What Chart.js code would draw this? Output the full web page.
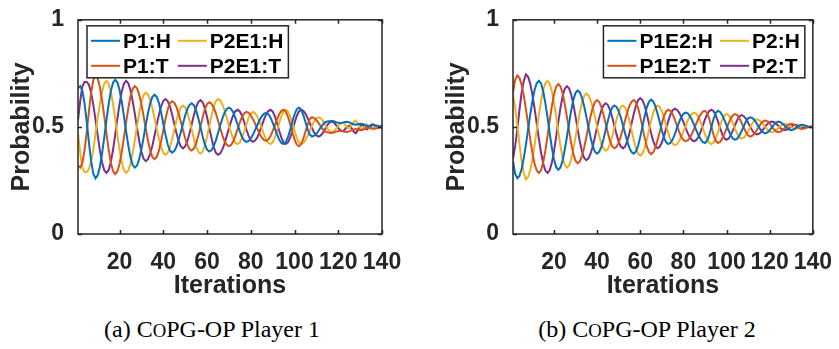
<!DOCTYPE html>
<html>
<head>
<meta charset="utf-8">
<script src="https://cdn.jsdelivr.net/npm/chart.js@4/dist/chart.umd.min.js"></script>
<style>
  body { margin: 0; background: #fff; width: 839px; height: 349px; overflow: hidden; position: relative; }
  canvas { position: absolute; top: 0; }
  .caption { position: absolute; font-family: "Liberation Serif", "Times New Roman", serif; font-size: 24px; color: #000; white-space: nowrap; transform: translate(-50%, -50%); }
  .sc { font-size: 0.78em; }
</style>
</head>
<body>
<canvas id="leftChart" width="420" height="300" style="left:0px"></canvas>
<canvas id="rightChart" width="404" height="300" style="left:435px"></canvas>
<div class="caption" style="left:212px; top:329px">(a) C<span class="sc">O</span>PG-OP Player 1</div>
<div class="caption" style="left:647px; top:329px">(b) C<span class="sc">O</span>PG-OP Player 2</div>
<script>
// Iteration axis and tick marks
const iterations = Array.from({ length: 140 }, (_, k) => k + 1);
const xTicks = [20, 40, 60, 80, 100, 120, 140];
const yTicks = [0, 0.5, 1];

// (a) Player 1 run
const leftP1H = [
  0.68, 0.69, 0.668, 0.609, 0.523, 0.427, 0.341, 0.281, 0.26, 0.274,
  0.314, 0.375, 0.45, 0.53, 0.605, 0.666, 0.706, 0.72, 0.708, 0.672,
  0.618, 0.551, 0.479, 0.413, 0.358, 0.322, 0.31, 0.32, 0.35, 0.395,
  0.45, 0.51, 0.565, 0.61, 0.64, 0.65, 0.64, 0.611, 0.567, 0.515,
  0.463, 0.419, 0.39, 0.38, 0.387, 0.407, 0.438, 0.475, 0.515, 0.553,
  0.583, 0.603, 0.61, 0.601, 0.577, 0.541, 0.498, 0.455, 0.418, 0.394,
  0.385, 0.391, 0.409, 0.436, 0.47, 0.505, 0.539, 0.566, 0.584, 0.59,
  0.584, 0.567, 0.541, 0.51, 0.479, 0.453, 0.436, 0.43, 0.434, 0.446,
  0.464, 0.486, 0.509, 0.531, 0.549, 0.561, 0.565, 0.559, 0.544, 0.52,
  0.493, 0.465, 0.441, 0.425, 0.42, 0.429, 0.452, 0.486, 0.524, 0.558,
  0.582, 0.59, 0.581, 0.556, 0.523, 0.489, 0.464, 0.455, 0.459, 0.468,
  0.482, 0.498, 0.512, 0.522, 0.525, 0.527, 0.528, 0.526, 0.522, 0.519,
  0.518, 0.52, 0.523, 0.524, 0.521, 0.516, 0.512, 0.51, 0.512, 0.515,
  0.514, 0.51, 0.505, 0.503, 0.505, 0.508, 0.508, 0.505, 0.502, 0.505
];
const leftP1T = [
  0.32, 0.31, 0.332, 0.391, 0.477, 0.573, 0.659, 0.719, 0.74, 0.726,
  0.686, 0.625, 0.55, 0.47, 0.395, 0.334, 0.294, 0.28, 0.292, 0.328,
  0.382, 0.449, 0.521, 0.587, 0.642, 0.678, 0.69, 0.68, 0.65, 0.605,
  0.55, 0.49, 0.435, 0.39, 0.36, 0.35, 0.36, 0.389, 0.433, 0.485,
  0.537, 0.581, 0.61, 0.62, 0.613, 0.593, 0.562, 0.525, 0.485, 0.447,
  0.417, 0.397, 0.39, 0.399, 0.423, 0.459, 0.502, 0.545, 0.582, 0.606,
  0.615, 0.609, 0.591, 0.564, 0.53, 0.495, 0.461, 0.434, 0.416, 0.41,
  0.416, 0.433, 0.459, 0.49, 0.521, 0.547, 0.564, 0.57, 0.566, 0.554,
  0.536, 0.514, 0.491, 0.469, 0.451, 0.439, 0.435, 0.441, 0.456, 0.48,
  0.507, 0.535, 0.559, 0.575, 0.58, 0.571, 0.548, 0.514, 0.476, 0.442,
  0.418, 0.41, 0.419, 0.444, 0.477, 0.511, 0.536, 0.545, 0.541, 0.532,
  0.518, 0.502, 0.488, 0.478, 0.475, 0.473, 0.472, 0.474, 0.478, 0.481,
  0.482, 0.48, 0.477, 0.476, 0.479, 0.484, 0.488, 0.49, 0.488, 0.485,
  0.486, 0.49, 0.495, 0.497, 0.495, 0.492, 0.492, 0.495, 0.498, 0.495
];
const leftP2E1H = [
  0.47, 0.38, 0.31, 0.29, 0.29, 0.303, 0.34, 0.396, 0.466, 0.54,
  0.609, 0.665, 0.702, 0.715, 0.702, 0.665, 0.608, 0.537, 0.463, 0.393,
  0.335, 0.298, 0.285, 0.296, 0.329, 0.379, 0.44, 0.505, 0.566, 0.616,
  0.649, 0.66, 0.651, 0.626, 0.588, 0.54, 0.49, 0.443, 0.404, 0.379,
  0.37, 0.379, 0.404, 0.441, 0.485, 0.529, 0.566, 0.591, 0.6, 0.591,
  0.567, 0.53, 0.488, 0.445, 0.408, 0.384, 0.375, 0.385, 0.412, 0.454,
  0.503, 0.551, 0.593, 0.62, 0.63, 0.624, 0.605, 0.578, 0.543, 0.507,
  0.473, 0.445, 0.426, 0.42, 0.428, 0.448, 0.478, 0.512, 0.542, 0.563,
  0.57, 0.564, 0.548, 0.524, 0.495, 0.466, 0.442, 0.426, 0.42, 0.428,
  0.45, 0.482, 0.518, 0.55, 0.572, 0.58, 0.572, 0.55, 0.518, 0.482,
  0.45, 0.428, 0.42, 0.425, 0.438, 0.459, 0.483, 0.506, 0.527, 0.54,
  0.545, 0.54, 0.528, 0.51, 0.492, 0.48, 0.475, 0.48, 0.492, 0.505,
  0.515, 0.52, 0.512, 0.5, 0.495, 0.505, 0.522, 0.53, 0.515, 0.497,
  0.49, 0.5, 0.512, 0.505, 0.49, 0.488, 0.497, 0.505, 0.5, 0.495
];
const leftP2E1T = [
  0.53, 0.62, 0.69, 0.71, 0.71, 0.697, 0.66, 0.604, 0.534, 0.46,
  0.391, 0.335, 0.298, 0.285, 0.298, 0.335, 0.392, 0.463, 0.537, 0.607,
  0.665, 0.702, 0.715, 0.704, 0.671, 0.621, 0.56, 0.495, 0.434, 0.384,
  0.351, 0.34, 0.349, 0.374, 0.412, 0.46, 0.51, 0.557, 0.596, 0.621,
  0.63, 0.621, 0.596, 0.559, 0.515, 0.471, 0.434, 0.409, 0.4, 0.409,
  0.433, 0.47, 0.512, 0.555, 0.592, 0.616, 0.625, 0.615, 0.588, 0.546,
  0.497, 0.449, 0.407, 0.38, 0.37, 0.376, 0.395, 0.422, 0.457, 0.493,
  0.527, 0.555, 0.574, 0.58, 0.572, 0.552, 0.522, 0.488, 0.458, 0.437,
  0.43, 0.436, 0.452, 0.476, 0.505, 0.534, 0.558, 0.574, 0.58, 0.572,
  0.55, 0.518, 0.482, 0.45, 0.428, 0.42, 0.428, 0.45, 0.482, 0.518,
  0.55, 0.572, 0.58, 0.575, 0.562, 0.541, 0.517, 0.494, 0.473, 0.46,
  0.455, 0.46, 0.472, 0.49, 0.508, 0.52, 0.525, 0.52, 0.508, 0.495,
  0.485, 0.48, 0.488, 0.5, 0.505, 0.495, 0.478, 0.47, 0.485, 0.503,
  0.51, 0.5, 0.488, 0.495, 0.51, 0.512, 0.503, 0.495, 0.5, 0.505
];

// (b) Player 2 run
const rightP1E2H = [
  0.34, 0.28, 0.26, 0.271, 0.303, 0.354, 0.417, 0.488, 0.558, 0.621,
  0.672, 0.704, 0.715, 0.703, 0.666, 0.611, 0.544, 0.471, 0.404, 0.349,
  0.312, 0.3, 0.311, 0.343, 0.393, 0.453, 0.517, 0.578, 0.627, 0.659,
  0.67, 0.661, 0.635, 0.596, 0.548, 0.497, 0.449, 0.41, 0.384, 0.375,
  0.384, 0.408, 0.445, 0.488, 0.53, 0.567, 0.591, 0.6, 0.593, 0.574,
  0.544, 0.507, 0.468, 0.431, 0.401, 0.382, 0.375, 0.385, 0.412, 0.453,
  0.501, 0.549, 0.59, 0.617, 0.627, 0.619, 0.597, 0.563, 0.524, 0.484,
  0.45, 0.428, 0.42, 0.426, 0.441, 0.465, 0.494, 0.522, 0.546, 0.561,
  0.567, 0.563, 0.55, 0.532, 0.508, 0.484, 0.461, 0.442, 0.429, 0.425,
  0.435, 0.463, 0.5, 0.538, 0.565, 0.575, 0.57, 0.555, 0.533, 0.508,
  0.482, 0.46, 0.445, 0.44, 0.445, 0.46, 0.481, 0.504, 0.525, 0.54,
  0.545, 0.541, 0.531, 0.516, 0.499, 0.484, 0.474, 0.47, 0.474, 0.484,
  0.498, 0.511, 0.521, 0.525, 0.522, 0.515, 0.505, 0.495, 0.488, 0.485,
  0.487, 0.494, 0.501, 0.508, 0.51, 0.508, 0.504, 0.5, 0.498, 0.5
];
const rightP1E2T = [
  0.66, 0.72, 0.74, 0.729, 0.697, 0.646, 0.583, 0.512, 0.442, 0.379,
  0.328, 0.296, 0.285, 0.297, 0.334, 0.389, 0.456, 0.529, 0.596, 0.651,
  0.688, 0.7, 0.689, 0.657, 0.607, 0.547, 0.483, 0.422, 0.373, 0.341,
  0.33, 0.339, 0.365, 0.404, 0.452, 0.503, 0.551, 0.59, 0.616, 0.625,
  0.616, 0.592, 0.555, 0.512, 0.47, 0.433, 0.409, 0.4, 0.407, 0.426,
  0.456, 0.493, 0.532, 0.569, 0.599, 0.618, 0.625, 0.615, 0.588, 0.547,
  0.499, 0.451, 0.41, 0.383, 0.373, 0.381, 0.403, 0.437, 0.476, 0.516,
  0.55, 0.572, 0.58, 0.574, 0.559, 0.535, 0.506, 0.478, 0.454, 0.439,
  0.433, 0.437, 0.45, 0.468, 0.492, 0.516, 0.539, 0.558, 0.571, 0.575,
  0.565, 0.537, 0.5, 0.462, 0.435, 0.425, 0.43, 0.445, 0.467, 0.492,
  0.518, 0.54, 0.555, 0.56, 0.555, 0.54, 0.519, 0.496, 0.475, 0.46,
  0.455, 0.459, 0.469, 0.484, 0.501, 0.516, 0.526, 0.53, 0.526, 0.516,
  0.502, 0.489, 0.479, 0.475, 0.478, 0.485, 0.495, 0.505, 0.512, 0.515,
  0.513, 0.506, 0.499, 0.492, 0.49, 0.492, 0.496, 0.5, 0.502, 0.5
];
const rightP2H = [
  0.65, 0.59, 0.51, 0.42, 0.34, 0.285, 0.255, 0.266, 0.299, 0.35,
  0.414, 0.485, 0.556, 0.62, 0.671, 0.704, 0.715, 0.703, 0.668, 0.614,
  0.548, 0.477, 0.411, 0.357, 0.322, 0.31, 0.32, 0.35, 0.396, 0.452,
  0.513, 0.569, 0.615, 0.645, 0.655, 0.647, 0.624, 0.589, 0.546, 0.499,
  0.456, 0.421, 0.398, 0.39, 0.398, 0.421, 0.455, 0.495, 0.535, 0.569,
  0.592, 0.6, 0.591, 0.566, 0.528, 0.483, 0.438, 0.4, 0.375, 0.366,
  0.375, 0.4, 0.438, 0.483, 0.528, 0.566, 0.591, 0.6, 0.593, 0.573,
  0.543, 0.508, 0.472, 0.442, 0.422, 0.415, 0.42, 0.433, 0.453, 0.478,
  0.504, 0.529, 0.549, 0.562, 0.567, 0.561, 0.546, 0.522, 0.494, 0.465,
  0.441, 0.426, 0.42, 0.427, 0.446, 0.474, 0.506, 0.534, 0.553, 0.56,
  0.554, 0.538, 0.515, 0.49, 0.467, 0.451, 0.445, 0.45, 0.462, 0.48,
  0.5, 0.518, 0.531, 0.535, 0.532, 0.524, 0.512, 0.498, 0.486, 0.478,
  0.475, 0.478, 0.485, 0.495, 0.505, 0.512, 0.515, 0.513, 0.506, 0.499,
  0.492, 0.49, 0.493, 0.499, 0.504, 0.505, 0.503, 0.5, 0.498, 0.5
];
const rightP2T = [
  0.35, 0.41, 0.49, 0.58, 0.66, 0.715, 0.745, 0.734, 0.701, 0.65,
  0.586, 0.515, 0.444, 0.38, 0.329, 0.296, 0.285, 0.297, 0.332, 0.386,
  0.452, 0.523, 0.589, 0.643, 0.678, 0.69, 0.68, 0.65, 0.604, 0.548,
  0.487, 0.431, 0.385, 0.355, 0.345, 0.353, 0.376, 0.411, 0.454, 0.501,
  0.544, 0.579, 0.602, 0.61, 0.602, 0.579, 0.545, 0.505, 0.465, 0.431,
  0.408, 0.4, 0.409, 0.434, 0.472, 0.517, 0.562, 0.6, 0.625, 0.634,
  0.625, 0.6, 0.562, 0.517, 0.472, 0.434, 0.409, 0.4, 0.407, 0.427,
  0.457, 0.492, 0.528, 0.558, 0.578, 0.585, 0.58, 0.567, 0.547, 0.522,
  0.496, 0.471, 0.451, 0.438, 0.433, 0.439, 0.454, 0.478, 0.506, 0.535,
  0.559, 0.574, 0.58, 0.573, 0.554, 0.526, 0.494, 0.466, 0.447, 0.44,
  0.446, 0.462, 0.485, 0.51, 0.533, 0.549, 0.555, 0.55, 0.538, 0.52,
  0.5, 0.482, 0.469, 0.465, 0.468, 0.476, 0.488, 0.502, 0.514, 0.522,
  0.525, 0.522, 0.515, 0.505, 0.495, 0.488, 0.485, 0.487, 0.494, 0.501,
  0.508, 0.51, 0.507, 0.501, 0.496, 0.495, 0.497, 0.5, 0.502, 0.5
];

// MATLAB default line colours
const BLUE = '#0072BD', RED = '#D95319', YELLOW = '#EDB120', PURPLE = '#7E2F8E';
const INK = '#262626';
const FONT = '"Liberation Sans", Arial, Helvetica, sans-serif';

// box around the axes, inward ticks, and a 2x2 legend like MATLAB draws
const framePlugin = {
    id: 'frame',
    afterDatasetsDraw(chart, args, opts) {
        const { ctx, chartArea: a, scales: { x, y } } = chart;
        ctx.save();
        ctx.strokeStyle = INK;
        ctx.lineWidth = 1.5;
        ctx.beginPath();
        xTicks.forEach(v => {
            const px = Math.round(x.getPixelForValue(v)) + 0.5;
            ctx.moveTo(px, a.bottom); ctx.lineTo(px, a.bottom - 4);
            ctx.moveTo(px, a.top); ctx.lineTo(px, a.top + 4);
        });
        yTicks.forEach(v => {
            const py = Math.round(y.getPixelForValue(v)) + 0.5;
            ctx.moveTo(a.left, py); ctx.lineTo(a.left + 4, py);
            ctx.moveTo(a.right, py); ctx.lineTo(a.right - 4, py);
        });
        ctx.stroke();
        ctx.strokeRect(a.left, a.top, a.width, a.height);

        // legend, filled column by column
        const ds = chart.data.datasets;
        ctx.font = 'bold 21px ' + FONT;
        const w0 = Math.max(ctx.measureText(ds[0].label).width, ctx.measureText(ds[1].label).width);
        const w1 = Math.max(ctx.measureText(ds[2].label).width, ctx.measureText(ds[3].label).width);
        const lineLen = 29, gap = 3, colGap = 7;
        const boxW = 4 + lineLen + gap + w0 + colGap + lineLen + gap + w1 + 5;
        const boxH = 52;
        const bx = opts.side === 'right' ? a.right - 8 - boxW : a.left + 9;
        const by = a.top + 6;
        ctx.fillStyle = '#fff';
        ctx.fillRect(bx, by, boxW, boxH);
        ctx.lineWidth = 1.5;
        ctx.strokeStyle = INK;
        ctx.strokeRect(bx, by, boxW, boxH);
        const colX = [bx + 4, bx + 4 + lineLen + gap + w0 + colGap];
        const rowY = [by + 15, by + 40];
        ds.forEach((d, k) => {
            const cx = colX[Math.floor(k / 2)], cy = rowY[k % 2];
            ctx.strokeStyle = d.borderColor;
            ctx.lineWidth = 2;
            ctx.beginPath();
            ctx.moveTo(cx, cy); ctx.lineTo(cx + lineLen, cy);
            ctx.stroke();
            ctx.fillStyle = '#000';
            ctx.textBaseline = 'middle';
            ctx.textAlign = 'left';
            ctx.fillText(d.label, cx + lineLen + gap, cy + 1);
        });
        ctx.restore();
    }
};

function makeChart(canvasId, series, side, rightPad) {
    const ctx = document.getElementById(canvasId).getContext('2d');
    return new Chart(ctx, {
        type: 'line',
        data: {
            labels: iterations,
            datasets: series.map(s => ({
                label: s.label,
                data: s.data,
                borderColor: s.color,
                borderWidth: 2,
                pointRadius: 0,
                tension: 0,
                fill: false
            }))
        },
        options: {
            responsive: false,
            animation: false,
            devicePixelRatio: 1,
            layout: { padding: { top: 13, right: rightPad, bottom: 0, left: 0 } },
            plugins: {
                legend: { display: false },
                tooltip: { enabled: false },
                frame: { side: side }
            },
            scales: {
                x: {
                    type: 'linear',
                    min: 1,
                    max: 140,
                    grid: { display: false },
                    border: { display: false },
                    afterBuildTicks: s => { s.ticks = xTicks.map(v => ({ value: v })); },
                    afterFit: s => { s.height = 66; },
                    ticks: {
                        autoSkip: false,
                        maxRotation: 0,
                        padding: 7,
                        color: INK,
                        font: { family: FONT, size: 23, weight: 'bold' },
                        callback: v => String(v)
                    },
                    title: {
                        display: true,
                        text: 'Iterations',
                        color: INK,
                        font: { family: FONT, size: 25, weight: 'bold', lineHeight: 1 },
                        padding: { top: 0, bottom: 1 }
                    }
                },
                y: {
                    min: 0,
                    max: 1,
                    grid: { display: false },
                    border: { display: false },
                    afterBuildTicks: s => { s.ticks = yTicks.map(v => ({ value: v })); },
                    afterFit: s => { s.width = 78; },
                    ticks: {
                        padding: 6,
                        color: INK,
                        font: { family: FONT, size: 23, weight: 'bold' },
                        callback: v => String(v)
                    },
                    title: {
                        display: true,
                        text: 'Probability',
                        color: INK,
                        font: { family: FONT, size: 25, weight: 'bold', lineHeight: 1 },
                        padding: { top: 10, bottom: 0 }
                    }
                }
            }
        },
        plugins: [framePlugin]
    });
}

makeChart('leftChart', [
    { label: 'P1:H', data: leftP1H, color: BLUE },
    { label: 'P1:T', data: leftP1T, color: RED },
    { label: 'P2E1:H', data: leftP2E1H, color: YELLOW },
    { label: 'P2E1:T', data: leftP2E1T, color: PURPLE }
], 'left', 38);

makeChart('rightChart', [
    { label: 'P1E2:H', data: rightP1E2H, color: BLUE },
    { label: 'P1E2:T', data: rightP1E2T, color: RED },
    { label: 'P2:H', data: rightP2H, color: YELLOW },
    { label: 'P2:T', data: rightP2T, color: PURPLE }
], 'right', 23);
</script>
</body>
</html>
